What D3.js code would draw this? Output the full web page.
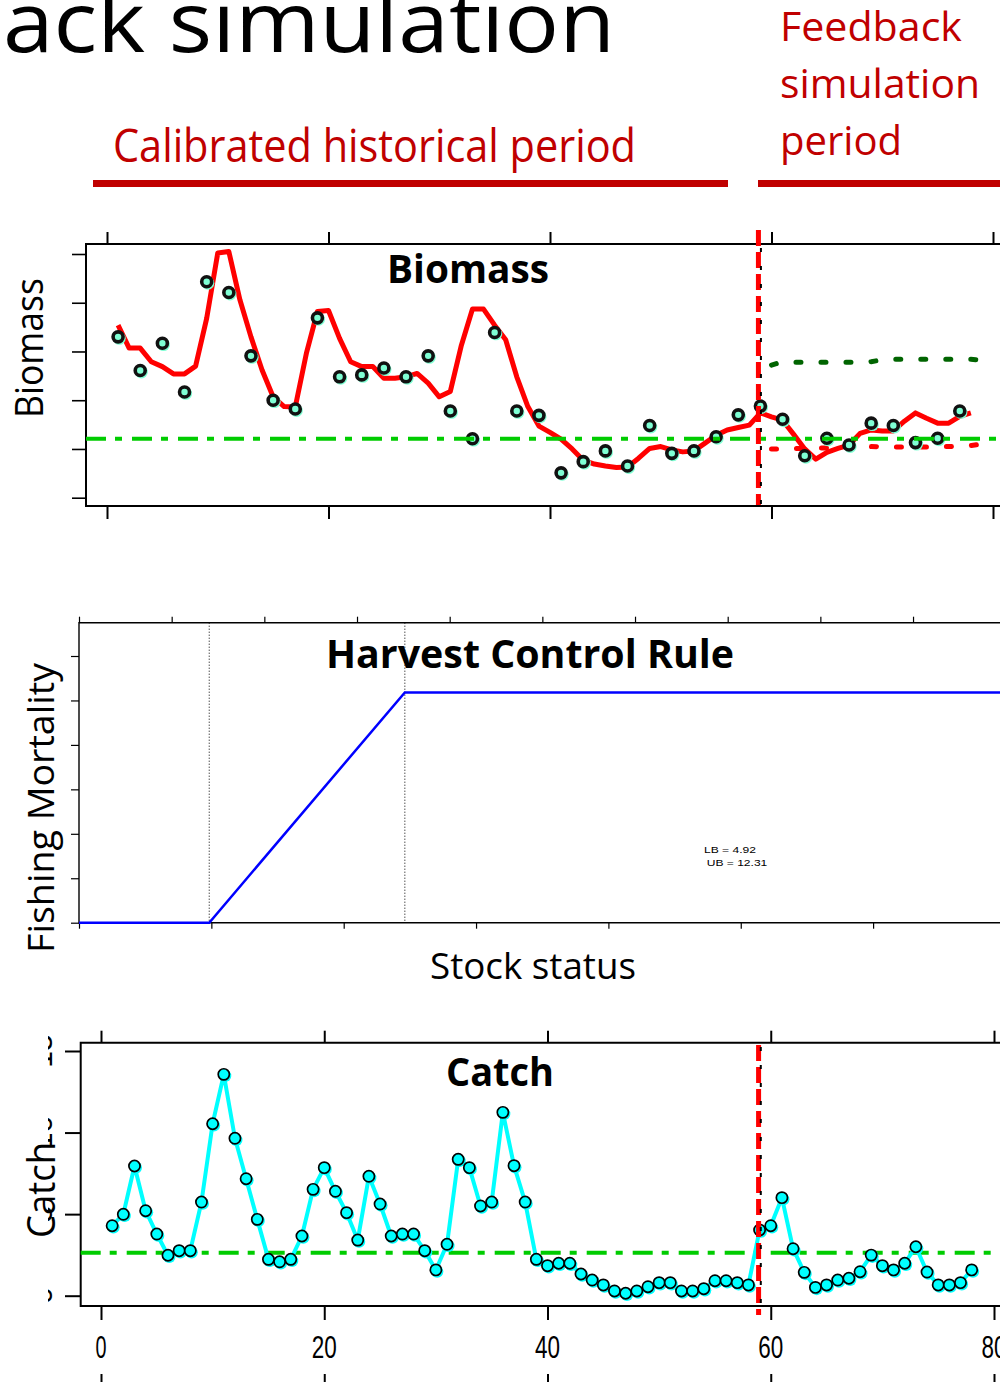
<!DOCTYPE html>
<html><head><meta charset="utf-8">
<script src="https://cdn.jsdelivr.net/npm/d3@7"></script>
<style>html,body{margin:0;padding:0;background:#fff;} svg{display:block;}</style>
</head><body>
<svg id="c" width="1000" height="1382"></svg>
<script>
// ---------------- data ----------------
const years = d3.range(1, 79);                 // 1..78
const biomassEst = [3.54,3.07,3.07,2.79,2.69,2.54,2.54,2.70,3.68,5.02,
  5.05,4.06,3.30,2.62,2.07,1.87,1.86,2.96,3.82,3.84,
  3.27,2.79,2.69,2.69,2.45,2.45,2.48,2.55,2.35,2.07,
  2.18,3.13,3.87,3.87,3.54,3.24,2.48,1.87,1.47,1.34,
  1.20,1.00,0.77,0.69,0.65,0.62,0.63,0.81,1.01,1.05,
  0.98,0.94,0.96,1.12,1.28,1.39,1.44,1.49,1.74,1.66,
  1.59,1.30,1.00,0.79,0.93,1.01,1.08,1.32,1.39,1.37,
  1.37,1.57,1.74,1.63,1.53,1.53,1.67,1.74];
const biomassObsYears = d3.range(1, 78, 2);    // 1,3,...,77
const biomassObs = [3.30,2.61,3.17,2.17,4.43,4.21,2.91,2.00,1.82,3.69,
  2.48,2.52,2.66,2.48,2.91,1.78,1.21,3.39,1.78,1.69,
  0.51,0.74,0.96,0.65,1.48,0.91,0.96,1.25,1.70,1.88,
  1.61,0.86,1.22,1.08,1.53,1.48,1.13,1.22,1.78];
const boundYears = d3.range(60, 80);           // 60..79
const biomassUpper = [2.72,2.79,2.78,2.78,2.78,2.78,2.78,2.78,2.78,2.79,
  2.83,2.84,2.84,2.84,2.84,2.84,2.84,2.84,2.84,2.82];
const biomassLower = [1.00,1.00,1.01,1.01,1.02,1.02,1.03,1.04,1.05,1.05,
  1.04,1.04,1.04,1.04,1.04,1.05,1.05,1.06,1.07,1.10];
const biomassRef = 1.21;
const catchVals = [4.29,4.99,7.95,5.21,3.78,2.48,2.76,2.76,5.74,10.54,
  13.57,9.65,7.17,4.68,2.23,2.08,2.23,3.66,6.52,7.85,
  6.40,5.09,3.41,7.32,5.62,3.66,3.78,3.78,2.76,1.58,
  3.15,8.36,7.85,5.50,5.74,11.24,7.97,5.74,2.23,1.84,
  1.99,1.99,1.33,0.96,0.66,0.29,0.15,0.29,0.55,0.80,
  0.80,0.29,0.29,0.43,0.92,0.92,0.80,0.66,4.03,4.29,
  6.01,2.88,1.43,0.51,0.66,0.96,1.07,1.47,2.49,1.84,
  1.58,1.99,3.00,1.45,0.66,0.66,0.80,1.58];
const catchRef = 2.64;
const simStart = 59;
const xTicks = [0, 20, 40, 60, 80];
const xTickLabels = ["0", "20", "40", "60", "80"];
const biomassYTicks = [0, 1, 2, 3, 4, 5];
const catchYTicks = [0, 5, 10, 15];
const catchYTickLabels = ["0", "5", "10", "15"];
const LB = 4.92, UB = 12.31;
const hcrStock = [0, LB, UB, 40];
const hcrF = [0, 0, 0.518, 0.518];
const hcrFTicks = [0, 0.1, 0.2, 0.3, 0.4, 0.5, 0.6];
const hcrStockTicks = [0, 5, 10, 15, 20, 25, 30, 35];
const hcrTopTicks = [0,1,2,3,4,5,6,7,8,9,10];

// ---------------- drawing ----------------
const svg = d3.select("#c");
svg.append("rect").attr("width", 1000).attr("height", 1382).attr("fill", "#fff");
const SANS = "'Open Sans','Noto Sans',sans-serif";
const ARIAL = "'Liberation Sans',Arial,sans-serif";
const RED = "#c00000";

function text(s, x, y, o) {
  const t = svg.append("text").text(s).attr("x", x).attr("y", y)
    .attr("font-family", o.family || SANS).attr("font-size", o.size)
    .attr("fill", o.fill || "#000").attr("text-anchor", o.anchor || "start");
  if (o.weight) t.attr("font-weight", o.weight);
  if (o.len) t.attr("textLength", o.len).attr("lengthAdjust", "spacingAndGlyphs");
  if (o.rotate) t.attr("transform", `rotate(-90,${x},${y})`);
  return t;
}
function styleAxis(g, w) {
  g.select(".domain").remove();
  g.selectAll("line").attr("stroke", "#000").attr("stroke-width", w);
}

// header
text("ack simulation", 3, 52, {size: 84, len: 612});
text("Calibrated historical period", 113, 162, {size: 45, fill: RED, len: 523});
svg.append("rect").attr("x", 93).attr("y", 180).attr("width", 635).attr("height", 7).attr("fill", RED);
text("Feedback", 780, 41, {size: 40, fill: RED, len: 182});
text("simulation", 780, 98, {size: 40, fill: RED, len: 200});
text("period", 780, 155, {size: 40, fill: RED, len: 122});
svg.append("rect").attr("x", 758).attr("y", 180).attr("width", 250).attr("height", 7).attr("fill", RED);

// ---------- Biomass panel ----------
const bx = d3.scaleLinear().domain([0, 80]).range([107, 993]);
const by = d3.scaleLinear().domain([0, 5]).range([497.7, 254]);
const bTop = 244, bBot = 506, bLeft = 86;
svg.append("path").attr("d", `M1005,${bTop}H${bLeft}V${bBot}H1005`)
  .attr("fill", "none").attr("stroke", "#000").attr("stroke-width", 2);
svg.append("g").attr("transform", `translate(0,${bTop})`)
  .call(d3.axisTop(bx).tickValues(xTicks).tickSize(12).tickFormat("")).call(g => styleAxis(g, 2));
svg.append("g").attr("transform", `translate(0,${bBot})`)
  .call(d3.axisBottom(bx).tickValues(xTicks).tickSize(13).tickFormat("")).call(g => styleAxis(g, 2));
svg.append("g").attr("transform", `translate(${bLeft},0)`)
  .call(d3.axisLeft(by).tickValues(biomassYTicks).tickSize(14).tickFormat("")).call(g => styleAxis(g, 1.6));

const bLine = d3.line().x(d => bx(d[0])).y(d => by(d[1]));
svg.append("path").datum(years.map((y, i) => [y, biomassEst[i]])).attr("d", bLine)
  .attr("fill", "none").attr("stroke", "#ff0000").attr("stroke-width", 5).attr("stroke-linejoin", "round");
svg.append("path").datum(boundYears.map((y, i) => [y, biomassUpper[i]])).attr("d", bLine)
  .attr("fill", "none").attr("stroke", "#006400").attr("stroke-width", 5)
  .attr("stroke-linecap", "round").attr("stroke-dasharray", "5,20");
svg.append("path").datum(boundYears.map((y, i) => [y, biomassLower[i]])).attr("d", bLine)
  .attr("fill", "none").attr("stroke", "#ff0000").attr("stroke-width", 5)
  .attr("stroke-linecap", "round").attr("stroke-dasharray", "5,20");
const bPts = biomassObsYears.map((y, i) => [y, biomassObs[i]]);
svg.append("g").selectAll("circle").data(bPts).join("circle")
  .attr("cx", d => bx(d[0]) + 1.2).attr("cy", d => by(d[1]) + 1.5).attr("r", 6.4).attr("fill", "#7fffd4");
svg.append("g").selectAll("circle").data(bPts).join("circle")
  .attr("cx", d => bx(d[0])).attr("cy", d => by(d[1])).attr("r", 5)
  .attr("fill", "#7fffd4").attr("stroke", "#111").attr("stroke-width", 3.6);
svg.append("line").attr("x1", bLeft).attr("x2", 1005).attr("y1", by(biomassRef)).attr("y2", by(biomassRef))
  .attr("stroke", "#00cc00").attr("stroke-width", 4).attr("stroke-dasharray", "20,9,7,10");
svg.append("line").attr("x1", bx(simStart) - 2).attr("x2", bx(simStart) - 2).attr("y1", 230).attr("y2", 505)
  .attr("stroke", "#ff0000").attr("stroke-width", 5).attr("stroke-dasharray", "16,6");
svg.append("line").attr("x1", bx(simStart) + 0.5).attr("x2", bx(simStart) + 0.5).attr("y1", 248).attr("y2", 505)
  .attr("stroke", "#000").attr("stroke-width", 2).attr("stroke-dasharray", "4,14");
text("Biomass", 468, 282.5, {size: 40, weight: "bold", anchor: "middle", len: 162});
text("Biomass", 43, 348, {size: 39, anchor: "middle", rotate: true, len: 140});

// ---------- Harvest Control Rule panel ----------
const hx = d3.scaleLinear().domain([0, 5]).range([79, 211.35]);
const hxTop = d3.scaleLinear().domain([0, 1]).range([79, 171.67]);
const hy = d3.scaleLinear().domain([0, 0.1]).range([922.7, 878.25]);
const hTop = 622.7, hBot = 922.7, hLeft = 79;
svg.append("path").attr("d", `M1005,${hTop}H${hLeft}V${hBot}H1005`)
  .attr("fill", "none").attr("stroke", "#000").attr("stroke-width", 1.4);
svg.append("g").attr("transform", `translate(0,${hTop})`)
  .call(d3.axisTop(hxTop).tickValues(hcrTopTicks).tickSize(6).tickFormat("")).call(g => styleAxis(g, 1.2));
svg.append("g").attr("transform", `translate(0,${hBot})`)
  .call(d3.axisBottom(hx).tickValues(hcrStockTicks).tickSize(6).tickFormat("")).call(g => styleAxis(g, 1.2));
svg.append("g").attr("transform", `translate(${hLeft},0)`)
  .call(d3.axisLeft(hy).tickValues(hcrFTicks).tickSize(8).tickFormat("")).call(g => styleAxis(g, 1.2));
[LB, UB].forEach(v => {
  svg.append("line").attr("x1", hx(v)).attr("x2", hx(v)).attr("y1", hTop).attr("y2", hBot)
    .attr("stroke", "#000").attr("stroke-width", 1).attr("stroke-dasharray", "1,2");
});
svg.append("path").datum(hcrStock.map((s, i) => [s, hcrF[i]]))
  .attr("d", d3.line().x(d => hx(d[0])).y(d => hy(d[1])))
  .attr("fill", "none").attr("stroke", "#0000ff").attr("stroke-width", 2.5);
text("Harvest Control Rule", 530, 668.3, {size: 40, weight: "bold", anchor: "middle", len: 408});
text(`LB = ${LB}`, 704, 853.3, {size: 9.5, family: ARIAL, len: 52});
text(`UB = ${UB}`, 706.7, 866, {size: 9.5, family: ARIAL, len: 60.6});
text("Fishing Mortality", 53.5, 808, {size: 37, anchor: "middle", rotate: true, len: 290});
text("Stock status", 533, 979, {size: 37, anchor: "middle", len: 206});

// ---------- Catch panel ----------
const cx = d3.scaleLinear().domain([0, 80]).range([101, 994]);
const cy = d3.scaleLinear().domain([0, 15]).range([1295.7, 1051]);
const cTop = 1042.7, cBot = 1306, cLeft = 80.7;
svg.append("path").attr("d", `M1005,${cTop}H${cLeft}V${cBot}H1005`)
  .attr("fill", "none").attr("stroke", "#000").attr("stroke-width", 2);
svg.append("g").attr("transform", `translate(0,${cTop})`)
  .call(d3.axisTop(cx).tickValues(xTicks).tickSize(12).tickFormat("")).call(g => styleAxis(g, 2));
svg.append("g").attr("transform", `translate(0,${cBot})`)
  .call(d3.axisBottom(cx).tickValues(xTicks).tickSize(14).tickFormat("")).call(g => styleAxis(g, 2));
svg.append("g").attr("transform", `translate(0,1374)`)
  .call(d3.axisBottom(cx).tickValues(xTicks).tickSize(12).tickFormat("")).call(g => styleAxis(g, 2));
svg.append("g").attr("transform", `translate(${cLeft},0)`)
  .call(d3.axisLeft(cy).tickValues(catchYTicks).tickSize(15.7).tickFormat("")).call(g => styleAxis(g, 2));
// x tick labels
xTicks.forEach((v, i) => {
  text(xTickLabels[i], cx(v), 1358.3, {size: 32, family: ARIAL, anchor: "middle",
    len: xTickLabels[i].length === 1 ? 11 : 25});
});
// y tick labels (mostly hidden behind the axis title in the source slide)
const defs = svg.append("defs");
defs.append("clipPath").attr("id", "ylabclip").append("rect")
  .attr("x", 48).attr("y", 1000).attr("width", 20).attr("height", 340);
const yl = svg.append("g").attr("clip-path", "url(#ylabclip)");
catchYTicks.forEach((v, i) => {
  const y = cy(v);
  yl.append("text").text(catchYTickLabels[i]).attr("x", 52).attr("y", y)
    .attr("font-family", ARIAL).attr("font-size", 30).attr("text-anchor", "middle")
    .attr("transform", `rotate(-90,52,${y})`);
});
svg.append("line").attr("x1", cLeft).attr("x2", 1005).attr("y1", cy(catchRef)).attr("y2", cy(catchRef))
  .attr("stroke", "#00cc00").attr("stroke-width", 4).attr("stroke-dasharray", "20,9,7,10");
const cPts = years.map((y, i) => [y, catchVals[i]]);
svg.append("path").datum(cPts).attr("d", d3.line().x(d => cx(d[0])).y(d => cy(d[1])))
  .attr("fill", "none").attr("stroke", "#00ffff").attr("stroke-width", 4).attr("stroke-linejoin", "round");
svg.append("g").selectAll("circle").data(cPts).join("circle")
  .attr("cx", d => cx(d[0]) + 1.3).attr("cy", d => cy(d[1]) + 1.6).attr("r", 6.2).attr("fill", "#00ffff");
svg.append("g").selectAll("circle").data(cPts).join("circle")
  .attr("cx", d => cx(d[0])).attr("cy", d => cy(d[1])).attr("r", 5.6)
  .attr("fill", "#00ffff").attr("stroke", "#000").attr("stroke-width", 1.7);
svg.append("line").attr("x1", cx(simStart) - 1).attr("x2", cx(simStart) - 1).attr("y1", 1045).attr("y2", 1315)
  .attr("stroke", "#ff0000").attr("stroke-width", 5).attr("stroke-dasharray", "16,6");
svg.append("line").attr("x1", cx(simStart) + 1.2).attr("x2", cx(simStart) + 1.2).attr("y1", 1047).attr("y2", 1305)
  .attr("stroke", "#000").attr("stroke-width", 2).attr("stroke-dasharray", "4,14");
text("Catch", 500, 1086, {size: 40, weight: "bold", anchor: "middle", len: 108});
text("Catch", 55, 1190, {size: 39, anchor: "middle", rotate: true, len: 96});
</script>
</body></html>
